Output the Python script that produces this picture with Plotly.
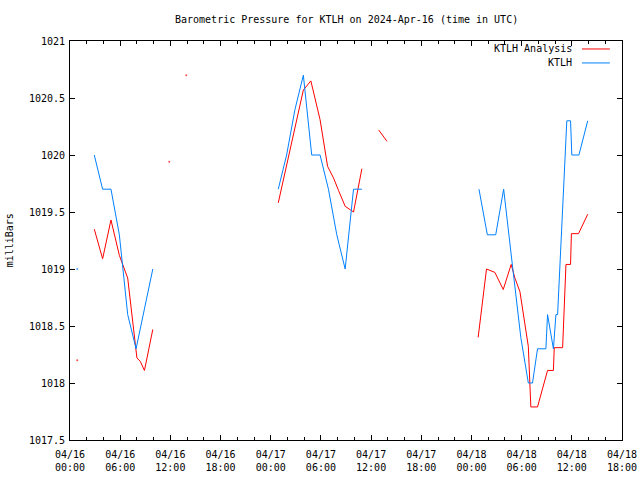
import plotly.graph_objects as go
import pandas as pd

BASE = pd.Timestamp("2024-04-16 00:00")

TITLE = "Barometric Pressure for KTLH on 2024-Apr-16 (time in UTC)"
Y_LABEL = "milliBars"
SERIES_NAMES = ["KTLH Analysis", "KTLH"]

# KTLH observations: hours after 04/16 00:00 UTC (None = gap)
ktlh_hours = [0.87, None,
              2.9, 3.9, 4.9, 5.9, 6.9, 7.9, 8.9, 9.9, None,
              24.9, 25.9, 26.9, 27.9, 28.9, 29.9, 30.9, 31.9, 32.9, 33.9, 34.9, None,
              48.9, 49.9, 50.9, 51.85, 52.95, 53.9, 54.8, 55.3, 55.9, 56.9, 57.1, 57.8,
              58.1, 58.3, 59.4, 59.85, 60.0, 60.85, 61.9]
ktlh_mb = [1019.0, None,
           1020.0, 1019.7, 1019.7, 1019.3, 1018.6, 1018.3, 1018.65, 1019.0, None,
           1019.7, 1020.0, 1020.4, 1020.7, 1020.0, 1020.0, 1019.7, 1019.3, 1019.0, 1019.7, 1019.7, None,
           1019.7, 1019.3, 1019.3, 1019.7, 1019.0, 1018.4, 1018.0, 1018.0, 1018.3, 1018.3, 1018.6, 1018.3,
           1018.6, 1018.6, 1020.3, 1020.3, 1020.0, 1020.0, 1020.3]

# KTLH Analysis
anal_hours = [0.87, None,
              2.9, 3.9, 4.9, 5.9, 6.9, 7.8, 8.0, 8.4, 8.9, 9.9, None,
              11.87, None,
              13.9, None,
              24.9, 25.9, 26.9, 27.9, 28.8, 29.9, 30.8, 31.5, 32.1, 32.9, 33.5, 33.9, 34.9, None,
              36.9, 37.9, None,
              48.8, 49.8, 50.8, 51.8, 52.75, 53.2, 53.8, 54.2, 54.8, 55.1, 55.9, 57.1, 57.8,
              57.9, 58.9, 59.3, 59.85, 59.95, 60.8, 61.9]
anal_mb = [1018.2, None,
           1019.35, 1019.09, 1019.43, 1019.12, 1018.92, 1018.32, 1018.22, 1018.19, 1018.11, 1018.47, None,
           1019.94, None,
           1020.70, None,
           1019.58, 1019.91, 1020.24, 1020.57, 1020.65, 1020.31, 1019.90, 1019.80, 1019.69, 1019.55, 1019.52, 1019.50, 1019.88, None,
           1020.22, 1020.12, None,
           1018.40, 1019.00, 1018.97, 1018.82, 1019.04, 1018.92, 1018.80, 1018.60, 1018.32, 1017.79, 1017.79, 1018.11, 1018.11,
           1018.31, 1018.31, 1019.04, 1019.04, 1019.31, 1019.31, 1019.48]

Y_RANGE = [1017.5, 1021.0]
Y_TICKS = [1017.5, 1018.0, 1018.5, 1019.0, 1019.5, 1020.0, 1020.5, 1021.0]
Y_TICK_LABELS = ["1017.5", "1018", "1018.5", "1019", "1019.5", "1020", "1020.5", "1021"]
X_RANGE_HOURS = [0, 66]


def to_time(hours):
    return [None if h is None else BASE + pd.Timedelta(hours=h) for h in hours]


def isolated_sizes(vals):
    out = []
    n = len(vals)
    for i, v in enumerate(vals):
        iso = (v is not None and (i == 0 or vals[i - 1] is None)
               and (i == n - 1 or vals[i + 1] is None))
        out.append(2 if iso else 0)
    return out


FONT = "DejaVu Sans Mono"
RED = "#ff0000"
BLUE = "#0080ff"

fig = go.Figure()
fig.add_trace(go.Scatter(
    x=to_time(anal_hours), y=anal_mb, mode="lines+markers", name=SERIES_NAMES[0],
    line=dict(color=RED, width=1), marker=dict(color=RED, size=isolated_sizes(anal_mb), line=dict(width=0)),
    connectgaps=False, showlegend=False))
fig.add_trace(go.Scatter(
    x=to_time(ktlh_hours), y=ktlh_mb, mode="lines+markers", name=SERIES_NAMES[1],
    line=dict(color=BLUE, width=1), marker=dict(color=BLUE, size=isolated_sizes(ktlh_mb), line=dict(width=0)),
    connectgaps=False, showlegend=False))

fig.update_layout(
    width=640, height=480,
    margin=dict(l=70, r=18, t=41, b=40, autoexpand=False),
    paper_bgcolor="white", plot_bgcolor="white",
    font=dict(family=FONT, size=10, color="black"),
    showlegend=False,
)

x0 = BASE + pd.Timedelta(hours=X_RANGE_HOURS[0])
x1 = BASE + pd.Timedelta(hours=X_RANGE_HOURS[1])
fig.update_xaxes(
    type="date", range=[x0, x1], automargin=False,
    tick0=x0, dtick=6 * 3600 * 1000, tickformat="%m/%d<br>%H:%M",
    ticks="inside", ticklen=5, tickcolor="black", tickwidth=1,
    showline=True, linecolor="black", linewidth=1, mirror="allticks",
    showgrid=False, zeroline=False, ticklabelstandoff=5,
    minor=dict(dtick=2 * 3600 * 1000, tick0=x0, ticks="inside", ticklen=3, tickcolor="black", showgrid=False),
    tickfont=dict(family=FONT, size=10),
)
fig.update_yaxes(
    range=Y_RANGE, automargin=False,
    tickmode="array", tickvals=Y_TICKS, ticktext=Y_TICK_LABELS,
    ticks="inside", ticklen=5, tickcolor="black", tickwidth=1,
    showline=True, linecolor="black", linewidth=1, mirror="allticks",
    showgrid=False, zeroline=False, ticklabelstandoff=2,
    tickfont=dict(family=FONT, size=10),
)

# Title
fig.add_annotation(text=TITLE, xref="paper", yref="paper", x=0.5, y=1, yshift=22,
                   showarrow=False, xanchor="center", yanchor="middle",
                   font=dict(family=FONT, size=10))
# Y label
fig.add_annotation(text=Y_LABEL, xref="paper", yref="paper", x=-0.109, y=0.5,
                   textangle=-90, showarrow=False, xanchor="center", yanchor="middle",
                   font=dict(family=FONT, size=10))

# Legend (gnuplot style: text then line sample)
legend_rows = [(SERIES_NAMES[0], RED, 0.98), (SERIES_NAMES[1], BLUE, 0.945)]
for name, col, yy in legend_rows:
    fig.add_annotation(text=name, xref="paper", yref="paper", x=0.913, y=yy,
                       showarrow=False, xanchor="right", yanchor="middle",
                       font=dict(family=FONT, size=10))
    fig.add_shape(type="line", xref="paper", yref="paper", x0=0.9275, x1=0.978, y0=yy, y1=yy,
                  line=dict(color=col, width=1))

# remove the default 8px page margin so the 640x480 figure fills the window exactly
fig.write_html("out.html", config={"displayModeBar": False},
               post_script="document.body.style.margin='0';")
